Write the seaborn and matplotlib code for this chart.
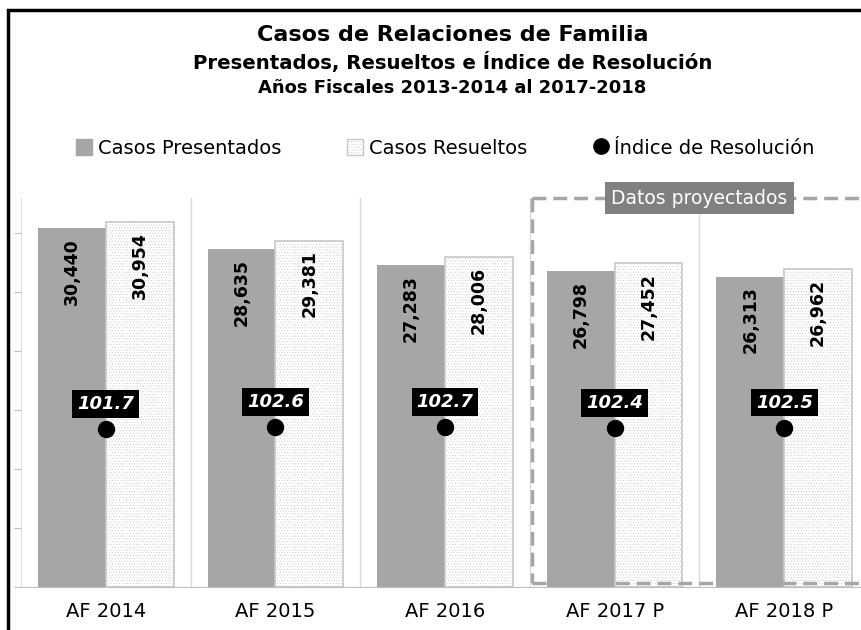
#!/usr/bin/env python3
"""Casos de Relaciones de Familia - presentados, resueltos e indice."""

import matplotlib
matplotlib.use("Agg")
import matplotlib.pyplot as plt
from matplotlib.patches import Rectangle, Patch
from matplotlib.lines import Line2D
import numpy as np
import pandas as pd
import seaborn as sns

YEARS = ["AF 2014", "AF 2015", "AF 2016", "AF 2017 P", "AF 2018 P"]
PRESENTADOS = [30440, 28635, 27283, 26798, 26313]
RESUELTOS = [30954, 29381, 28006, 27452, 26962]
INDICE = [101.7, 102.6, 102.7, 102.4, 102.5]

GRAY = "#A6A6A6"

sns.set_style("white")
plt.rcParams["font.family"] = ["DejaVu Sans"]
plt.rcParams["text.color"] = "black"
plt.rcParams["xtick.color"] = "black"
plt.rcParams["hatch.linewidth"] = 0.35

df = pd.DataFrame({
    "year": YEARS * 2,
    "serie": ["Casos Presentados"] * len(YEARS) + ["Casos Resueltos"] * len(YEARS),
    "valor": PRESENTADOS + RESUELTOS,
})

W, H = 862, 630
fig = plt.figure(figsize=(W / 100, H / 100), dpi=100)
ax = fig.add_axes([21 / W, 1 - 587 / H, 848 / W, (587 - 198) / H])

sns.barplot(
    data=df, x="year", y="valor", hue="serie",
    palette={"Casos Presentados": GRAY, "Casos Resueltos": "white"},
    saturation=1, errorbar=None, legend=False, width=0.8, ax=ax,
)

n = len(YEARS)
bars = ax.patches
for i, bar in enumerate(bars):
    if i >= n:
        bar.set_hatch("......")
        bar.set_edgecolor("#C8C8C8")
        bar.set_linewidth(1.2)
    else:
        bar.set_linewidth(0)

# rotated value labels
for bar, val in zip(bars, PRESENTADOS + RESUELTOS):
    ax.annotate(
        f"{val:,}",
        xy=(bar.get_x() + bar.get_width() / 2, val),
        xytext=(0, -7), textcoords="offset points",
        rotation=90, ha="center", va="top",
        fontsize=12.5, fontweight="bold", color="black",
    )

ax.set_ylim(0, 33000)
ax.set_xlim(-0.5, n - 0.5)
ax.set_yticks(range(0, 33000, 5000))
ax.set_yticklabels([])
ax.tick_params(axis="y", length=5, color="#BFBFBF", direction="out")
ax.set_xlabel("")
ax.set_ylabel("")
ax.tick_params(axis="x", length=0, labelsize=14, pad=11)
ax.set_xticks(np.arange(-0.5, n, 1.0), minor=True)
ax.tick_params(axis="x", which="minor", length=6, color="#BFBFBF")
for b in np.arange(0.5, n - 0.5, 1.0):
    ax.axvline(b, color="#D9D9D9", lw=1, zorder=0)
ax.axvline(-0.5, color="#D9D9D9", lw=1.2, zorder=0)
for side in ["top", "right", "left"]:
    ax.spines[side].set_visible(False)
ax.spines["bottom"].set_color("#BFBFBF")

# projected data box (open to the right, chart is cropped there)
box_x0, box_x1 = 2.513, 4.6
box_y0, box_y1 = 350, 32970
box_kw = dict(color=GRAY, lw=2.5, linestyle=(0, (4, 2)), clip_on=False, zorder=6)
ax.plot([box_x0, box_x1], [box_y1, box_y1], **box_kw)
ax.plot([box_x0, box_x0], [box_y1, box_y0], **box_kw)
ax.plot([box_x0, box_x1], [box_y0, box_y0], **box_kw)
ax.text(
    3.5, 32970, "Datos proyectados", ha="center", va="center",
    fontsize=13.5, color="white", zorder=7,
    bbox=dict(boxstyle="square,pad=0.35", facecolor="#808080", edgecolor="none"),
)

# resolution index on secondary axis
ax2 = ax.twinx()
ax2.set_ylim(0, 250)
ax2.axis("off")
ax2.plot(np.arange(n), INDICE, "o", color="black", markersize=11.5, zorder=5)
for i, v in enumerate(INDICE):
    ax2.annotate(
        f"{v:.1f}", xy=(i, v), xytext=(0, 18), textcoords="offset points",
        ha="center", va="center", color="white", fontsize=13,
        fontweight="bold", fontstyle="italic",
        bbox=dict(boxstyle="square,pad=0.27", facecolor="black", edgecolor="none"),
    )

# titles
fig.text(0.525, 1 - 35 / H, "Casos de Relaciones de Familia",
         ha="center", va="center", fontsize=16, fontweight="bold")
fig.text(0.525, 1 - 62 / H, "Presentados, Resueltos e Índice de Resolución",
         ha="center", va="center", fontsize=14.2, fontweight="bold")
fig.text(0.525, 1 - 88 / H, "Años Fiscales 2013-2014 al 2017-2018",
         ha="center", va="center", fontsize=13, fontweight="bold")

handles = [
    Patch(facecolor=GRAY, edgecolor=GRAY),
    Patch(facecolor="white", edgecolor="#C8C8C8", hatch="......"),
    Line2D([], [], marker="o", color="black", linestyle="none", markersize=11),
]
fig.legend(
    handles, ["Casos Presentados", "Casos Resueltos", "Índice de Resolución"],
    loc="center", bbox_to_anchor=(0.517, 1 - 148 / H), ncol=3, frameon=False,
    fontsize=14, handlelength=0.8, handleheight=0.9, handletextpad=0.3,
    columnspacing=3.4,
)

# outer border (cropped chart frame: only left and top are visible)
top = 1 - 10 / H
fig.patches.append(Rectangle(
    (8 / W, -0.1), 1.2, top + 0.1, transform=fig.transFigure,
    fill=False, edgecolor="black", lw=2.5, clip_on=False,
))

fig.savefig("out.png", dpi=100)
